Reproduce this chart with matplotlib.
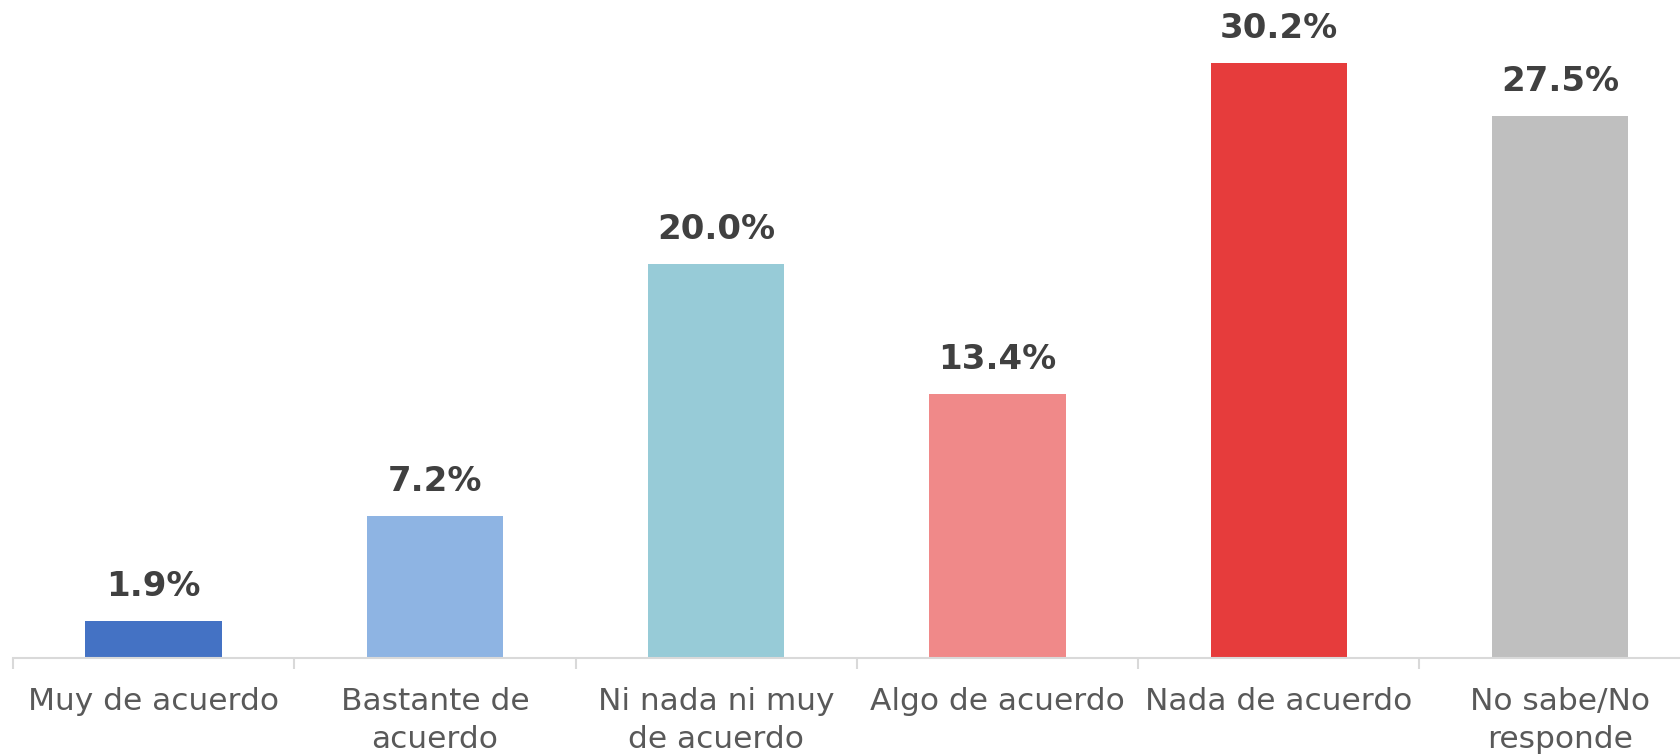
import matplotlib
matplotlib.use("Agg")
import matplotlib.pyplot as plt
from matplotlib.ticker import FixedLocator

categories = ["Muy de acuerdo", "Bastante de\nacuerdo", "Ni nada ni muy\nde acuerdo",
              "Algo de acuerdo", "Nada de acuerdo", "No sabe/No\nresponde"]
values = [1.9, 7.2, 20.0, 13.4, 30.2, 27.5]
colors = ["#4472C4", "#8EB4E3", "#97CBD7", "#F08989", "#E63C3C", "#BFBFBF"]

plt.rcParams['font.family'] = ['DejaVu Sans']

fig = plt.figure(figsize=(16.81, 7.56), dpi=100)
ax = fig.add_axes([13/1681, 98/756, 1 - 13/1681, 658/756])

x = list(range(len(categories)))
ax.bar(x, values, width=0.485, color=colors, zorder=2)

for xi, v in zip(x, values):
    ax.annotate(f"{v:.1f}%", (xi, v), xytext=(0, 18), textcoords="offset points",
                ha="center", va="baseline", fontsize=24.5, fontweight="bold", color="#404040")

ax.set_xlim(-0.5, 5.43)
ax.set_ylim(0, 33.4)
ax.set_yticks([])
ax.set_xticks(x)
ax.set_xticklabels(categories, fontsize=22.5, color="#595959", linespacing=1.4)
ax.xaxis.set_minor_locator(FixedLocator([i - 0.5 for i in range(len(categories) + 1)]))
ax.tick_params(axis="x", which="major", length=0, pad=21)
ax.tick_params(axis="x", which="minor", length=8, width=1.5, color="#D9D9D9")

for s in ["top", "right", "left"]:
    ax.spines[s].set_visible(False)
ax.spines["bottom"].set_color("#D9D9D9")
ax.spines["bottom"].set_linewidth(1.5)

fig.savefig("out.png", dpi=100)
